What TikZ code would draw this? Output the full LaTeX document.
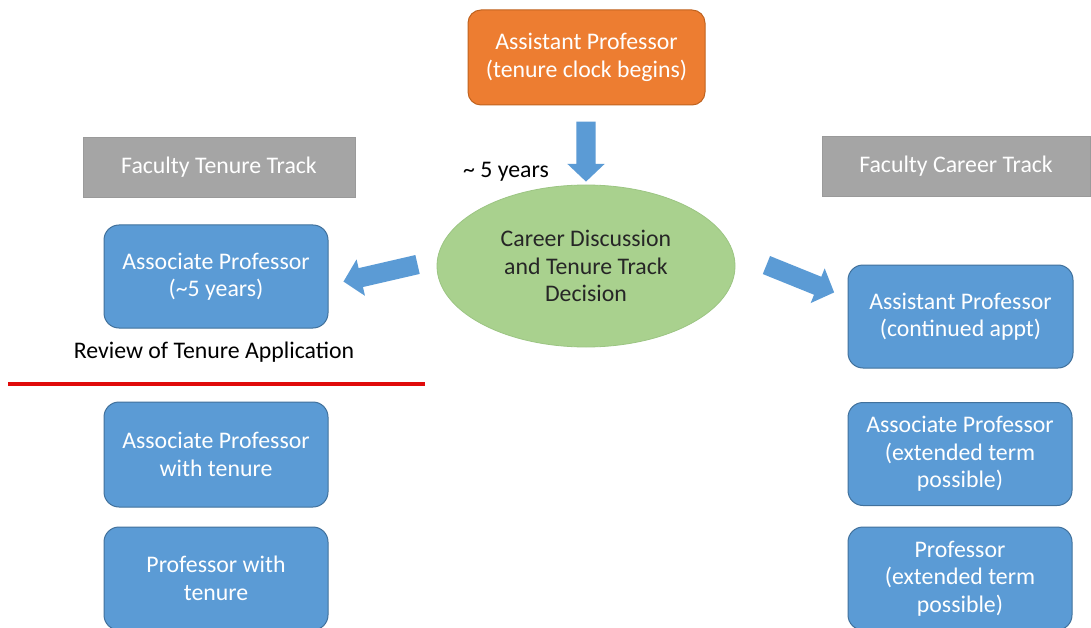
\documentclass[tikz,border=0pt]{standalone}
\usepackage{fontspec}
\setmainfont{Carlito}
\usetikzlibrary{shapes.geometric,shapes.arrows}
\definecolor{cOrange}{HTML}{ED7D31}
\definecolor{cOrangeDark}{HTML}{C0631F}
\definecolor{cBlue}{HTML}{5B9BD5}
\definecolor{cBlueDark}{HTML}{41719C}
\definecolor{cGray}{HTML}{A5A5A5}
\definecolor{cGrayDark}{HTML}{9A9A9A}
\definecolor{cGreen}{HTML}{A9D18E}
\definecolor{cGreenDark}{HTML}{9CC583}
\definecolor{cRed}{HTML}{E00A0A}
\definecolor{cText}{HTML}{262626}
\begin{document}
\begin{tikzpicture}[x=1pt,y=-1pt,
  txt/.style={font=\fontsize{23.8}{27.5}\selectfont, align=center, inner sep=0pt},
  bluebox/.style={txt, draw=cBlueDark, line width=1pt, fill=cBlue, rounded corners=15pt,
    minimum width=224pt, minimum height=103pt, text=white},
  orangebox/.style={txt, draw=cOrangeDark, line width=1pt, fill=cOrange, rounded corners=13pt,
    minimum width=237pt, minimum height=95pt, text=white},
  graybox/.style={txt, draw=cGrayDark, line width=0.6pt, fill=cGray,
    minimum width=272pt, minimum height=60pt, text=white},
  decision/.style={txt, ellipse, draw=cGreenDark, line width=0.8pt, fill=cGreen,
    minimum width=298pt, minimum height=162pt, text=cText},
  blockarr/.style={single arrow, fill=cBlue, draw=none, inner xsep=0pt, inner ysep=9.5pt,
    single arrow head extend=9pt, single arrow tip angle=93,
    single arrow head indent=0pt},
  plain/.style={txt, text=black}
]
\useasboundingbox (0,0) rectangle (1091,628);
\fill[white] (0,0) rectangle (1091,628);

% top
\node[orangebox] (start) at (586.5,57.5) {Assistant Professor\\(tenure clock begins)};
\node[blockarr, minimum height=60pt, rotate=-90] (arD) at (586,147) {};
\node[plain] (yrs) at (506,172) {\textasciitilde\ 5 years};
\node[decision] (dec) at (586,266) {Career Discussion\\and Tenure Track\\Decision};
\node[blockarr, minimum height=76pt, rotate=193] (arL) at (385,272) {};
\node[blockarr, minimum height=73pt, rotate=-22] (arR) at (796,277) {};

% left column
\node[graybox] (tt) at (219,167) {Faculty Tenure Track};
\node[bluebox] (l1) at (216,276.5) {Associate Professor\\(\textasciitilde5 years)};
\node[plain] (rev) at (214,352) {Review of Tenure Application};
\coordinate (redA) at (8,384);
\coordinate (redB) at (425,384);
\draw[cRed, line width=4.5pt] (redA) -- (redB);
\node[bluebox, minimum height=105pt] (l2) at (216,454.5) {Associate Professor\\with tenure};
\node[bluebox] (l3) at (216,578.5) {Professor with\\tenure};

% right column
\node[graybox, minimum width=268pt] (ct) at (956,166.5) {Faculty Career Track};
\node[bluebox, minimum width=225pt] (r1) at (960.5,316.5) {Assistant Professor\\(continued appt)};
\node[bluebox] (r2) at (960,454) {Associate Professor\\(extended term\\possible)};
\node[bluebox] (r3) at (960,578.5) {Professor\\(extended term\\possible)};
\end{tikzpicture}
\end{document}
